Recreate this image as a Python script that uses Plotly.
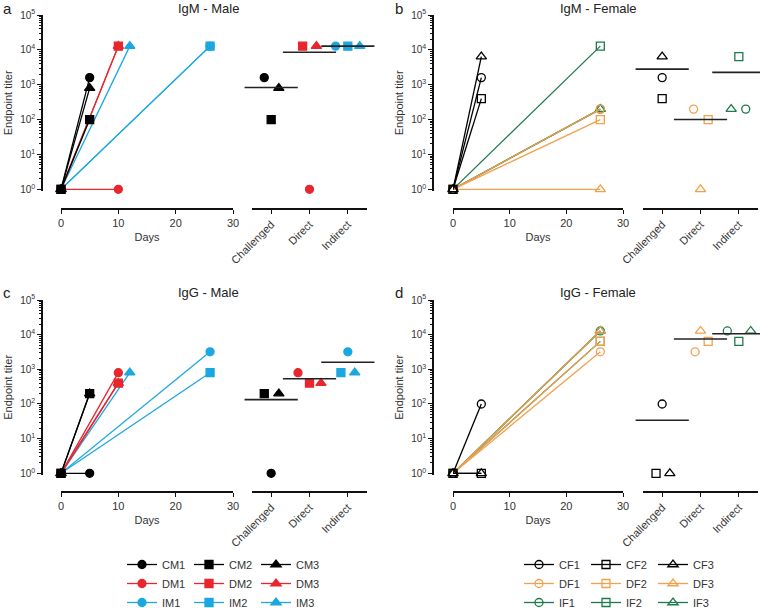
import numpy as np
import plotly.graph_objects as go

W, H = 760, 608

GROUPS = ["Challenged", "Direct", "Indirect"]
DAY_TICKS = [0, 10, 20, 30]
# plotly's default log labels -> "10^n" labels
TITER_DEFAULT = ["1", "10", "100", "1000", "10k", "100k"]
TITER_LABELS = ["10<sup>%d</sup>" % i for i in range(6)]

MALE_IDS = ["CM1", "CM2", "CM3", "DM1", "DM2", "DM3", "IM1", "IM2", "IM3"]
FEMALE_IDS = ["CF1", "CF2", "CF3", "DF1", "DF2", "DF3", "IF1", "IF2", "IF3"]

BASELINE_DAY = 0
BASELINE_TITER = 1

# day of the second sample and its titer, per animal
MALE_DAY = [5, 5, 5, 10, 10, 10, 26, 26, 12]
FEMALE_DAY = [5, 5, 5, 26, 26, 26, 26, 26, 26]

IGM_MALE = [1600, 100, 800, 1, 12800, 12800, 12800, 12800, 12800]
IGM_FEMALE = [1600, 400, 6400, 200, 100, 1, 200, 12800, 200]
IGM_FEMALE_ENDPOINT = [1600, 400, 6400, 200, 100, 1, 200, 6400, 200]
IGG_MALE = [1, 200, 200, 800, 400, 400, 3200, 800, 800]
IGG_FEMALE = [100, 1, 1, 3200, 6400, 12800, 12800, 6400, 12800]

# horizontal spread of the points inside each group column (style only)
JITTER_A = [-0.18, 0, 0.2, 0, -0.18, 0.18, -0.32, 0, 0.31]
JITTER_B = [0, 0, 0, -0.18, 0.2, 0, 0.18, 0, -0.2]
JITTER_C = [0, -0.18, 0.2, -0.3, 0, 0.3, 0, -0.18, 0.18]
JITTER_D = [0, -0.16, 0.2, -0.14, 0.2, 0, -0.3, 0, 0.31]

GROUP_COLORS = {
    "male": ["#000000", "#E8262E", "#1BA7E0"],
    "female": ["#000000", "#F3A04C", "#1E7A4C"],
}
SYMBOLS = ["circle", "square", "triangle-up"]
FONT = "Liberation Sans, Arial, sans-serif"

DECADE_PX = 34.86
Y_PAD = 0.04  # tiny log pad below 10^0 so flat lines at the floor are not clipped


def px_x(v):
    return v / W


def px_y(v):
    return 1 - v / H


fig = go.Figure()

# draw order: indirect, direct, challenged (challenged ends on top)
DRAW_ORDER = [6, 7, 8, 3, 4, 5, 0, 1, 2]


def add_panel(ids, days, titers, endpoints, jitter, sex, xl, xc, ya, legend):
    colors = GROUP_COLORS[sex]
    for i in DRAW_ORDER:
        g, k = divmod(i, 3)
        color = colors[g]
        sym = SYMBOLS[k] if sex == "male" else SYMBOLS[k] + "-open"
        marker = dict(symbol=sym, size=8 if k != 2 else 9, color=color,
                      line=dict(color=color, width=1.3))
        fig.add_trace(go.Scatter(
            x=[BASELINE_DAY, days[i]], y=[BASELINE_TITER, titers[i]],
            mode="lines+markers", name=ids[i], xaxis=xl, yaxis=ya,
            line=dict(color=color, width=1.3), marker=marker,
            cliponaxis=False, showlegend=legend is not None,
            legend=legend or "legend", legendgroup=f"{sex}{k}",
            legendrank=k * 3 + g + 1,
        ))
        fig.add_trace(go.Scatter(
            x=[g + jitter[i]], y=[endpoints[i]], mode="markers",
            xaxis=xc, yaxis=ya, marker=marker, cliponaxis=False,
            showlegend=False,
        ))
    means = [np.mean(endpoints[g * 3:g * 3 + 3]) for g in range(3)]
    fig.add_trace(go.Scatter(
        x=[0, 1, 2], y=means, mode="markers", xaxis=xc, yaxis=ya,
        marker=dict(symbol="line-ew", size=38, line=dict(color="#222", width=1.6)),
        cliponaxis=False, showlegend=False,
    ))


add_panel(MALE_IDS, MALE_DAY, IGM_MALE, IGM_MALE, JITTER_A, "male", "x", "x2", "y", "legend")
add_panel(FEMALE_IDS, FEMALE_DAY, IGM_FEMALE, IGM_FEMALE_ENDPOINT, JITTER_B, "female", "x3", "x4", "y2", "legend2")
add_panel(MALE_IDS, MALE_DAY, IGG_MALE, IGG_MALE, JITTER_C, "male", "x5", "x6", "y3", None)
add_panel(FEMALE_IDS, FEMALE_DAY, IGG_FEMALE, IGG_FEMALE, JITTER_D, "female", "x7", "x8", "y4", None)

axis_common = dict(showgrid=False, zeroline=False, showline=True, linecolor="#111",
                   linewidth=1.5, ticks="outside", ticklen=4, tickwidth=1.3,
                   tickcolor="#111", tickfont=dict(size=11, color="#333"),
                   automargin=False)

panels = [
    # days axis, group axis, y axis, y-axis x (px), days span (px), group span (px),
    # y top (px), y bottom (px), x-axis y (px)
    ("xaxis", "xaxis2", "yaxis", 42, (61, 233), (252, 367), 15, 189.3, 209),
    ("xaxis3", "xaxis4", "yaxis2", 433, (453, 623), (643, 758), 15, 189.3, 209),
    ("xaxis5", "xaxis6", "yaxis3", 42, (61, 233), (252, 367), 300, 473.3, 492),
    ("xaxis7", "xaxis8", "yaxis4", 433, (453, 623), (643, 758), 300, 473.3, 492),
]
layout = {}
for xd, xc, yn, ypos, xr, cr, yt, yb, xpos in panels:
    layout[xd] = dict(axis_common, domain=[px_x(xr[0]), px_x(xr[1])], range=[0, 30],
                      tickvals=DAY_TICKS, anchor="free", position=px_y(xpos),
                      title=dict(text="Days", font=dict(size=11, color="#333"), standoff=4))
    layout[xc] = dict(axis_common, domain=[px_x(cr[0]), px_x(cr[1])], range=[-0.5, 2.5],
                      tickvals=[0, 1, 2], ticktext=GROUPS, tickangle=-45,
                      anchor="free", position=px_y(xpos))
    layout[yn] = dict(axis_common, type="log",
                      domain=[px_y(yb + Y_PAD * DECADE_PX), px_y(yt)], range=[-Y_PAD, 5],
                      tickmode="linear", tick0=0, dtick=1,
                      labelalias=dict(zip(TITER_DEFAULT, TITER_LABELS)),
                      tickfont=dict(size=10, color="#333"),
                      minor=dict(ticks="outside", ticklen=2.5, tickwidth=0.9,
                                 tickcolor="#111", dtick="D1", showgrid=False),
                      anchor="free", position=px_x(ypos),
                      title=dict(text="Endpoint titer", font=dict(size=11, color="#333"), standoff=4))

annotations = []
for letter, title, cx, lx, y in [
    ("a", "IgM - Male", 208, 1, 9),
    ("b", "IgM - Female", 598, 393, 9),
    ("c", "IgG - Male", 208, 1, 293),
    ("d", "IgG - Female", 598, 393, 293),
]:
    annotations.append(dict(text=title, x=px_x(cx), y=px_y(y), xref="paper", yref="paper",
                            xanchor="center", yanchor="middle", showarrow=False,
                            font=dict(size=13, color="#222")))
    annotations.append(dict(text=letter, x=px_x(lx), y=px_y(y - 1), xref="paper", yref="paper",
                            xanchor="left", yanchor="middle", showarrow=False,
                            font=dict(size=15, color="#222")))

legend_common = dict(orientation="h", traceorder="grouped", xanchor="left", yanchor="top",
                     font=dict(size=11, color="#333"), bgcolor="rgba(0,0,0,0)",
                     tracegroupgap=0, itemwidth=30, entrywidth=22)

fig.update_layout(
    width=W, height=H, margin=dict(l=0, r=0, t=0, b=0, autoexpand=False),
    plot_bgcolor="white", paper_bgcolor="white",
    font=dict(family=FONT, color="#333"),
    annotations=annotations,
    legend=dict(legend_common, x=px_x(122), y=px_y(550)),
    legend2=dict(legend_common, x=px_x(519), y=px_y(550)),
    **layout,
)

# the page's default body margin would push the figure 8px right and down
fig.write_html("out.html", config={"displayModeBar": False},
               post_script="document.body.style.margin = '0';")
